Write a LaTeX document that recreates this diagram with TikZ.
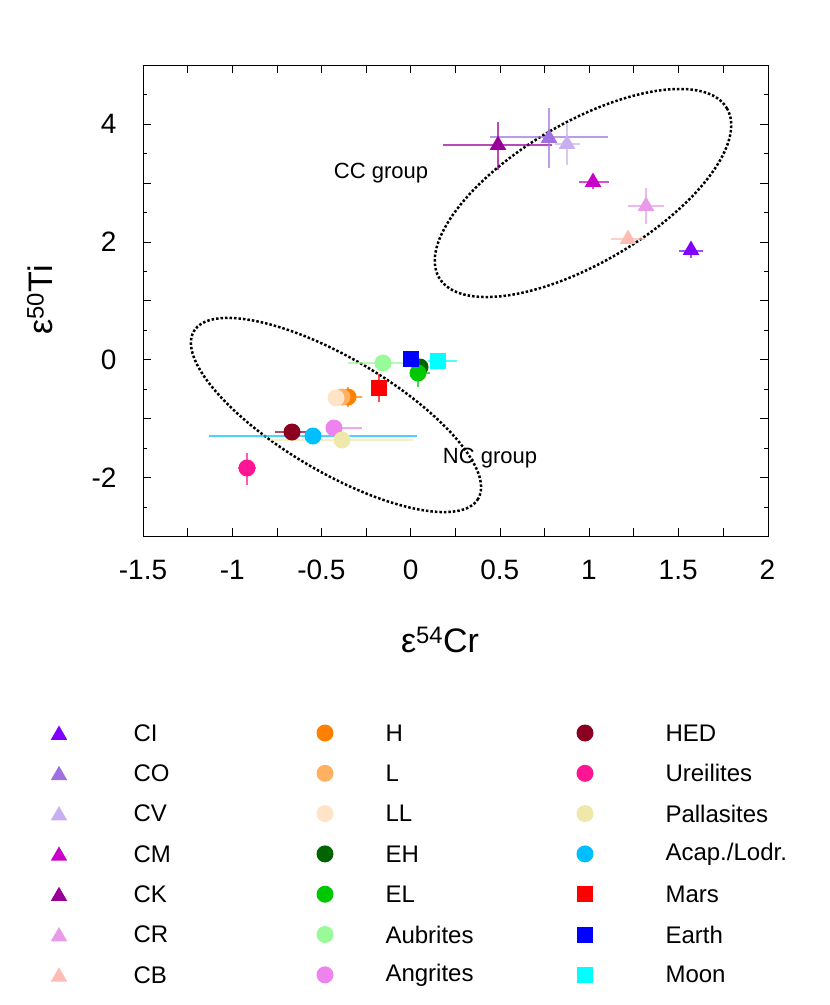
\documentclass[tikz,border=0pt]{standalone}
\usepackage{fontspec}
\setmainfont{Liberation Sans}
\usetikzlibrary{shapes.geometric}
\begin{document}
\begin{tikzpicture}[x=1pt,y=-1pt,
  tri/.style={fill=#1,draw=none,regular polygon,regular polygon sides=3,minimum size=19pt,inner sep=0pt},
  dot/.style={fill=#1,draw=none,circle,minimum size=17pt,inner sep=0pt},
  sq/.style={fill=#1,draw=none,rectangle,minimum size=16pt,inner sep=0pt},
  eb/.style={draw=#1,line width=1.2pt,opacity=0.7},
  lab/.style={font=\fontsize{24}{28}\selectfont,anchor=west},
  tick/.style={font=\fontsize{28}{32}\selectfont}]
\useasboundingbox (0,0) rectangle (830,1005);
\definecolor{cCI}{HTML}{7F00FF}\definecolor{cCO}{HTML}{A070E0}\definecolor{cCV}{HTML}{C8B0F0}
\definecolor{cCM}{HTML}{C800C8}\definecolor{cCK}{HTML}{990099}\definecolor{cCR}{HTML}{E89AE8}
\definecolor{cCB}{HTML}{FFBCB4}\definecolor{cH}{HTML}{FF8000}\definecolor{cL}{HTML}{FFB060}
\definecolor{cLL}{HTML}{FFE4C8}\definecolor{cEH}{HTML}{006400}\definecolor{cEL}{HTML}{00C800}
\definecolor{cAu}{HTML}{98FA98}\definecolor{cAn}{HTML}{EE82EE}\definecolor{cHED}{HTML}{8B0020}
\definecolor{cUr}{HTML}{FF1493}\definecolor{cPa}{HTML}{EEE8AA}\definecolor{cAc}{HTML}{00BFFF}
\definecolor{cMa}{HTML}{FF0000}\definecolor{cEa}{HTML}{0000FF}\definecolor{cMo}{HTML}{00FFFF}
% frame and ticks
\draw[line width=1pt] (143,65) rectangle (768,536);
\foreach \i in {0,...,13} {
  \pgfmathsetmacro\xx{143+\i*44.6}
  \draw (\xx,536) -- ++(0,-8) (\xx,65) -- ++(0,8);}
\foreach \i in {0,...,8} {
  \pgfmathsetmacro\yy{65+\i*58.9}
  \draw (143,\yy) -- ++(8,0) (768,\yy) -- ++(-8,0);}
\foreach \i in {0,...,15} {
  \pgfmathsetmacro\yy{65+\i*29.45}
  \draw (143,\yy) -- ++(4,0) (768,\yy) -- ++(-4,0);}
\foreach \v [count=\k from 0] in {-1.5,-1,-0.5,0,0.5,1,1.5,2}
  \node[tick] (xt\k) at (143+\k*89.2,570) {\v};
\foreach \v [count=\k from 0] in {4,2,0,-2}
  \node[tick,anchor=east] (yt\k) at (120,124+\k*118) {\v};
\node[font=\fontsize{34}{38}\selectfont] (xl) at (440,640) {ε$^{\mathrm{54}}$Cr};
\node[font=\fontsize{34}{38}\selectfont,rotate=90] (yl) at (40,300) {ε$^{\mathrm{50}}$Ti};
% ellipses
\draw[line width=2.5pt,dotted] (336,415) ellipse[x radius=165,y radius=57,rotate=-30.5];
\draw[line width=2.5pt,dotted] (583,193) ellipse[x radius=167,y radius=70,rotate=30.5];
\node[font=\fontsize{22}{26}\selectfont] (ccg) at (381,173) {CC group};
\node[font=\fontsize{22}{26}\selectfont] (ncg) at (490,458) {NC group};
% NC error bars
\draw[eb=cAc] (209,436) -- (417,436);
\draw[eb=cPa] (270,440) -- (413,440);
\draw[eb=cHED] (275,432) -- (307,432);
\draw[eb=cAn] (334,428) -- (362,428);
\draw[eb=cUr] (247,453) -- (247,485) (238,468) -- (256,468);
\draw[eb=cAu] (348,363) -- (420,363);
\draw[eb=cEL] (410,373) -- (430,373) (418,366) -- (418,387);
\draw[eb=cMo] (428,361) -- (457,361);
\draw[eb=cMa] (379,374) -- (379,402);
\draw[eb=cH] (333,397) -- (362,397) (348,387) -- (348,407);
\draw[eb=cL] (330,397) -- (350,397);
% NC points
\node[dot=cUr] (pUr) at (247,468) {};
\node[dot=cHED] (pHED) at (292,432) {};
\node[dot=cAn] (pAn) at (334,428) {};
\node[dot=cAc] (pAc) at (313,436) {};
\node[dot=cPa] (pPa) at (342,440) {};
\node[dot=cH] (pH) at (348,397) {};
\node[dot=cL] (pL) at (342,397) {};
\node[dot=cLL] (pLL) at (336,398) {};
\node[sq=cMa] (pMa) at (379,388) {};
\node[dot=cAu] (pAu) at (383,363) {};
\node[dot=cEH] (pEH) at (420,367) {};
\node[dot=cEL] (pEL) at (418,373) {};
\node[sq=cEa] (pEa) at (411,359) {};
\node[sq=cMo] (pMo) at (438,361) {};
% CC error bars
\draw[eb=cCK] (443,145) -- (552,145) (498,122) -- (498,170);
\draw[eb=cCO] (490,137) -- (608,137) (549,108) -- (549,168);
\draw[eb=cCV] (555,144) -- (580,144) (567,124) -- (567,165);
\draw[eb=cCM] (579,182) -- (609,182) (593,174) -- (593,189);
\draw[eb=cCR] (628,206) -- (664,206) (646,188) -- (646,224);
\draw[eb=cCB] (611,239) -- (645,239);
\draw[eb=cCI] (679,251) -- (703,251) (691,244) -- (691,258);
% CC points
\node[tri=cCK] (pCK) at (498,145) {};
\node[tri=cCO] (pCO) at (549,138) {};
\node[tri=cCV] (pCV) at (567,144) {};
\node[tri=cCM] (pCM) at (593,182) {};
\node[tri=cCR] (pCR) at (646,206) {};
\node[tri=cCB] (pCB) at (628,239) {};
\node[tri=cCI] (pCI) at (691,250) {};
% legend
\foreach \n/\c [count=\k from 0] in {CI/cCI,CO/cCO,CV/cCV,CM/cCM,CK/cCK,CR/cCR,CB/cCB} {
  \node[tri=\c] (la\k) at (59,735+\k*40.3) {};
  \node[lab] (lt\k) at (130,733+\k*40.3) {\n};}
\foreach \n/\c [count=\k from 0] in {H/cH,L/cL,LL/cLL,EH/cEH,EL/cEL,Aubrites/cAu,Angrites/cAn} {
  \node[dot=\c] (lb\k) at (325,733+\k*40.3) {};
  \node[lab] (lu\k) at (382,733+\k*40.3) {\n};}
\foreach \n/\c [count=\k from 0] in {HED/cHED,Ureilites/cUr,Pallasites/cPa,{Acap./Lodr.}/cAc} {
  \node[dot=\c] (lc\k) at (585,733+\k*40.3) {};
  \node[lab] (lv\k) at (662,733+\k*40.3) {\n};}
\foreach \n/\c [count=\k from 4] in {Mars/cMa,Earth/cEa,Moon/cMo} {
  \node[sq=\c] (lc\k) at (585,733+\k*40.3) {};
  \node[lab] (lv\k) at (662,733+\k*40.3) {\n};}
\end{tikzpicture}
\end{document}
